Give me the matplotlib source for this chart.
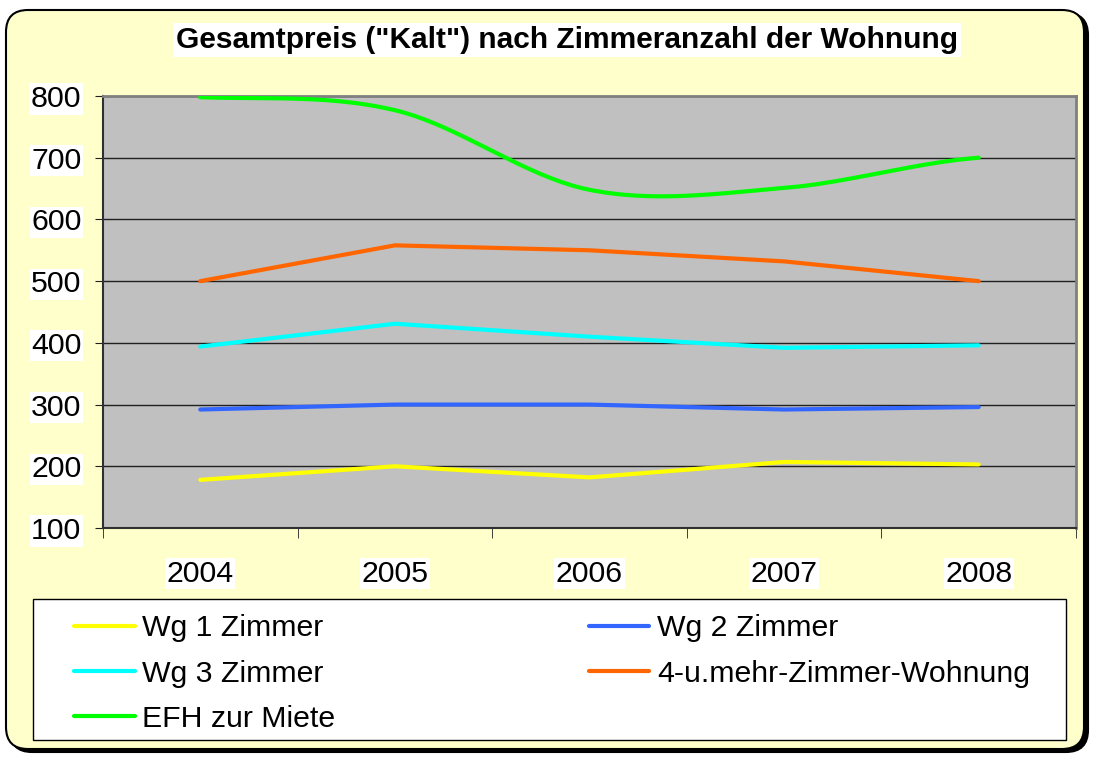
import numpy as np
import matplotlib.pyplot as plt
from matplotlib.patches import FancyBboxPatch, Rectangle
from matplotlib.lines import Line2D

plt.rcParams['font.family'] = ['Liberation Sans', 'DejaVu Sans']

years = ["2004", "2005", "2006", "2007", "2008"]
wg1 = [178, 200, 182, 207, 203]
wg2 = [292, 300, 300, 292, 296]
wg3 = [394, 431, 410, 392, 396]
wg4 = [500, 558, 550, 532, 500]
efh = [798, 777, 648, 651, 700]

series_names = ["Wg 1 Zimmer", "Wg 2 Zimmer", "Wg 3 Zimmer",
                "4-u.mehr-Zimmer-Wohnung", "EFH zur Miete"]
colors = ["#FFFF00", "#3366FF", "#00FFFF", "#FF6600", "#00FF00"]


def smooth(y, n=40):
    # cubic hermite with catmull-rom tangents (like Excel's smoothed line)
    y = np.asarray(y, float)
    k = len(y)
    m = np.zeros(k)
    m[1:-1] = (y[2:] - y[:-2]) / 2
    m[0] = (y[1] - y[0]) / 2
    m[-1] = (y[-1] - y[-2]) / 2
    xs, ys = [], []
    for i in range(k - 1):
        t = np.linspace(0, 1, n, endpoint=(i == k - 2))
        h00 = 2 * t**3 - 3 * t**2 + 1
        h10 = t**3 - 2 * t**2 + t
        h01 = -2 * t**3 + 3 * t**2
        h11 = t**3 - t**2
        xs.append(i + t)
        ys.append(h00 * y[i] + h10 * m[i] + h01 * y[i + 1] + h11 * m[i + 1])
    return np.concatenate(xs), np.concatenate(ys)


W, H = 1094, 758
fig = plt.figure(figsize=(W / 100, H / 100), dpi=100)
fig.patch.set_facecolor("white")

# background frame in pixel coords
bg = fig.add_axes([0, 0, 1, 1], zorder=-5)
bg.set_xlim(0, W)
bg.set_ylim(H, 0)
bg.axis("off")
bg.add_patch(FancyBboxPatch((10, 13), W - 16, H - 19, boxstyle="round,pad=0,rounding_size=22",
                            facecolor="black", edgecolor="black", lw=1.5))
bg.add_patch(FancyBboxPatch((6, 10), W - 16, H - 19, boxstyle="round,pad=0,rounding_size=22",
                            facecolor="#FFFFCC", edgecolor="black", lw=1.5))
# legend frame
bg.add_patch(Rectangle((33, 599), 1066 - 33, 740 - 599, facecolor="white",
                       edgecolor="black", lw=1))

fig.text(567, H - 40, 'Gesamtpreis ("Kalt") nach Zimmeranzahl der Wohnung',
         transform=None, ha="center", va="center", fontsize=21.5, fontweight="bold",
         bbox=dict(facecolor="white", edgecolor="none", pad=2))

ax = fig.add_axes([103 / W, 1 - 528 / H, (1076 - 103) / W, (528 - 96) / H])
ax.set_facecolor("#C0C0C0")
x = np.arange(len(years))

all_series = [wg1, wg2, wg3, wg4]
for vals, c in zip(all_series, colors[:4]):
    ax.plot(x, vals, color=c, lw=3, solid_capstyle="round", zorder=3)
sx, sy = smooth(efh)
ax.plot(sx, sy, color=colors[4], lw=3, solid_capstyle="round", zorder=3)

ax.set_xlim(-0.5, 4.5)
ax.set_ylim(100, 800)
ax.set_yticks(range(100, 801, 100))
ax.yaxis.grid(True, color="#202020", lw=1)
ax.set_axisbelow(True)
ax.set_xticks(x)
ax.set_xticklabels(years)
ax.set_xticks(np.arange(-0.5, 4.6, 1), minor=True)
ax.tick_params(axis="x", which="major", length=0, pad=23, labelsize=21.8)
ax.tick_params(axis="x", which="minor", length=7, direction="out", color="#202020")
ax.tick_params(axis="y", length=6, direction="out", pad=9.5, labelsize=21.8, color="#202020")
for lab in ax.get_xticklabels() + ax.get_yticklabels():
    lab.set_bbox(dict(facecolor="white", edgecolor="none", pad=1))

for s in ["top", "right"]:
    ax.spines[s].set_color("#808080")
    ax.spines[s].set_linewidth(2)
for s in ["left", "bottom"]:
    ax.spines[s].set_color("#303030")
    ax.spines[s].set_linewidth(1.5)

handles = [Line2D([], [], color=c, lw=3, solid_capstyle="round") for c in colors]
# column-major order: left column 1, 3, EFH ; right column 2, 4
order = [0, 2, 4, 1, 3]
leg = fig.legend([handles[i] for i in order], [series_names[i] for i in order],
                 loc="center", bbox_to_anchor=(74 / W, 1 - 744 / H, (1030 - 74) / W, (744 - 603) / H),
                 mode="expand", ncol=2, fontsize=21.8, frameon=False,
                 handlelength=2.0, handletextpad=0.26, labelspacing=0.57,
                 borderpad=0, borderaxespad=0)

fig.savefig("out.png", dpi=100, facecolor="white")
